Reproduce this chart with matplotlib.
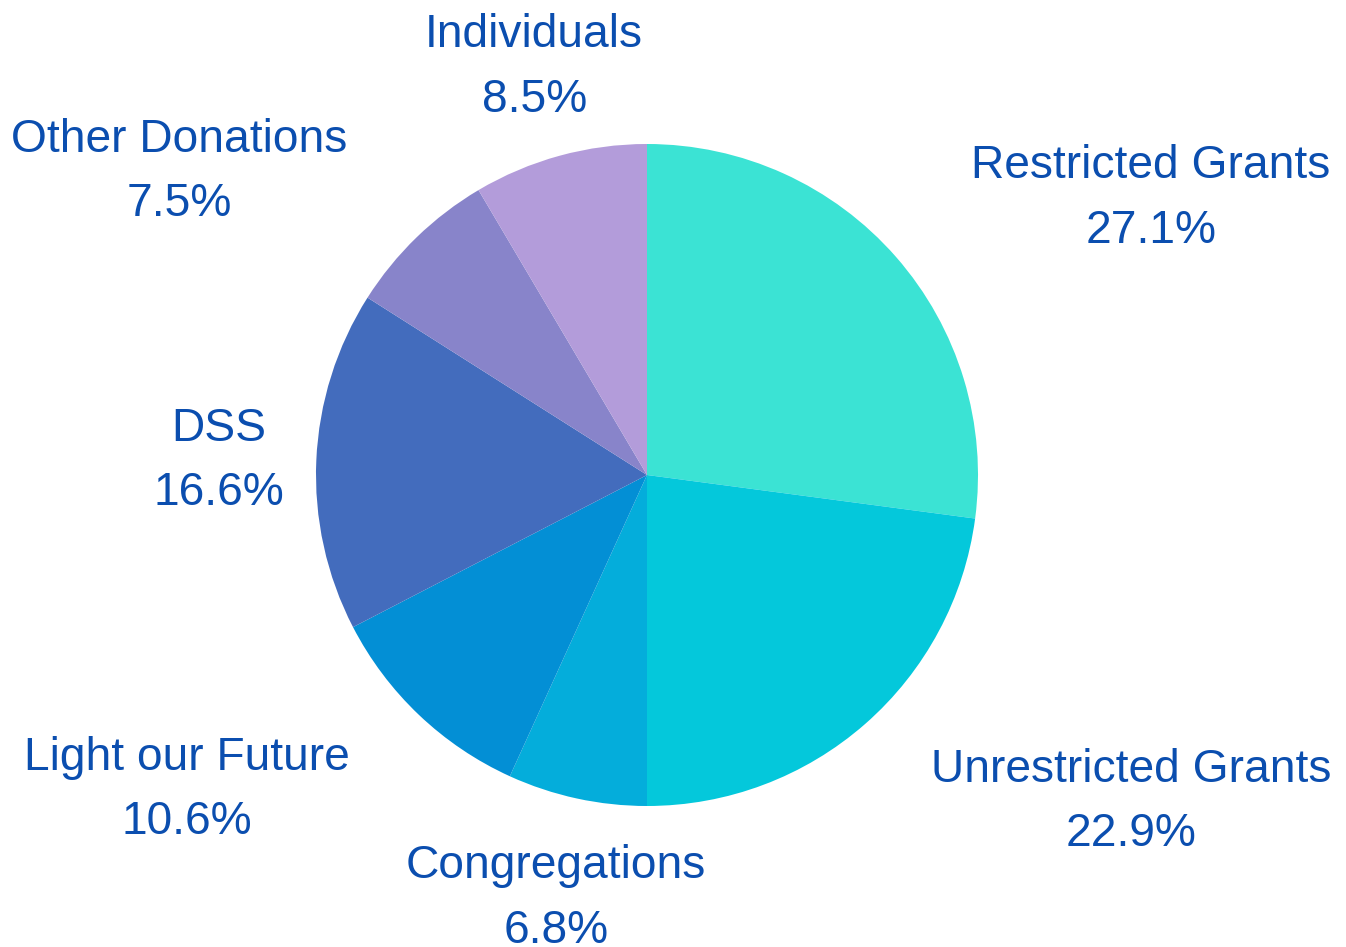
import matplotlib
matplotlib.use("Agg")
import matplotlib.pyplot as plt

categories = ["Restricted Grants", "Unrestricted Grants", "Congregations",
              "Light our Future", "DSS", "Other Donations", "Individuals"]
values = [27.1, 22.9, 6.8, 10.6, 16.6, 7.5, 8.5]
colors = ["#3BE3D4", "#04C8DB", "#04ADDB", "#038FD5", "#436CBD", "#8884CA", "#B39CDA"]

# label anchor positions (in pie-radius units, baseline of first line)
label_x = [1.523, 1.462, -0.275, -1.390, -1.293, -1.413, -0.341]
label_y = [0.897, -0.927, -1.218, -0.891, 0.103, 0.976, 1.293]
line_gap = 0.195

text_color = "#0B4EAF"

W, H, DPI = 1346, 947, 100
fig = plt.figure(figsize=(W / DPI, H / DPI), dpi=DPI)
ax = fig.add_axes([0, 0, 1, 1])
R = 331.0
cx, cy = 647.0, 475.0

ax.pie(values, colors=colors, startangle=90, counterclock=False, radius=1.0,
       wedgeprops=dict(linewidth=0, antialiased=True))
ax.set_xlim(-cx / R, (W - cx) / R)
ax.set_ylim(-(H - cy) / R, cy / R)
ax.set_aspect("equal")
ax.axis("off")

for name, v, x, y in zip(categories, values, label_x, label_y):
    ax.text(x, y, name, ha="center", va="baseline", fontsize=33.2,
            family="Liberation Sans", color=text_color)
    ax.text(x, y - line_gap, f"{v:.1f}%", ha="center", va="baseline", fontsize=33.2,
            family="Liberation Sans", color=text_color)

fig.savefig("out.png", dpi=DPI, facecolor="white")
